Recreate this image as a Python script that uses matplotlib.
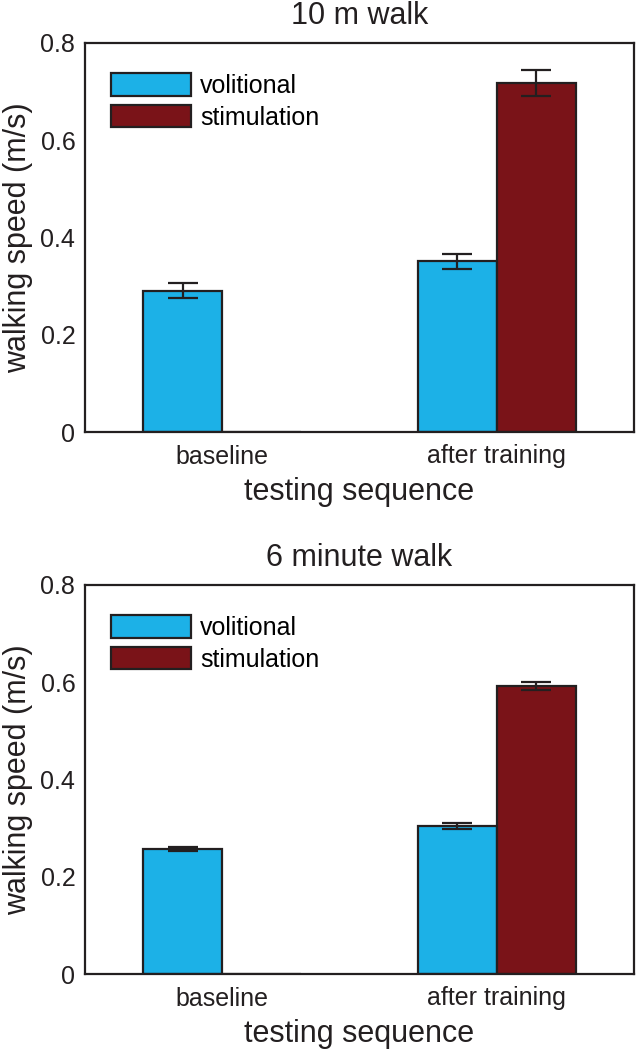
import numpy as np
import matplotlib
matplotlib.use("Agg")
import matplotlib.pyplot as plt

plt.rcParams['font.family'] = ['Liberation Sans', 'DejaVu Sans']

# data
groups = ['baseline', 'after training']
series = ['volitional', 'stimulation']
titles = ['10 m walk', '6 minute walk']

walk10_vol = [0.291, 0.351]
walk10_vol_err = [0.016, 0.016]
walk10_stim = [0.0, 0.717]
walk10_stim_err = [0.0, 0.027]

walk6_vol = [0.257, 0.305]
walk6_vol_err = [0.005, 0.006]
walk6_stim = [0.0, 0.592]
walk6_stim_err = [0.0, 0.0075]

blue = '#1cb1e7'
red = '#7a1318'
edge = '#231f20'

fig = plt.figure(figsize=(6.36, 10.5), dpi=100)
ax1 = fig.add_axes([85/636, 1-432/1050, 549/636, 389/1050])
ax2 = fig.add_axes([85/636, 1-974/1050, 549/636, 389/1050])

panels = [
    (ax1, titles[0], walk10_vol, walk10_vol_err, walk10_stim, walk10_stim_err),
    (ax2, titles[1], walk6_vol, walk6_vol_err, walk6_stim, walk6_stim_err),
]

x = np.arange(1, len(groups)+1)
w = 0.287

for ax, title, vol, vol_err, stim, stim_err in panels:
    ax.bar(x - w/2, vol, w, color=blue, edgecolor=edge, linewidth=1.6, label=series[0], zorder=2)
    ax.bar(x + w/2, stim, w, color=red, edgecolor=edge, linewidth=1.6, label=series[1], zorder=2)
    ax.errorbar(x - w/2, vol, yerr=vol_err, fmt='none', ecolor=edge, elinewidth=1.6,
                capsize=11, capthick=1.6, zorder=3)
    # only the bar that exists gets an error bar
    has = np.array(stim) > 0
    ax.errorbar((x + w/2)[has], np.array(stim)[has], yerr=np.array(stim_err)[has], fmt='none',
                ecolor=edge, elinewidth=1.6, capsize=11, capthick=1.6, zorder=3)

    ax.set_xlim(0.5, 2.5)
    ax.set_ylim(0, 0.8)
    ax.set_xticks(x)
    ax.set_xticklabels(groups)
    ax.set_yticks([0, 0.2, 0.4, 0.6, 0.8])
    ax.set_yticklabels(['0', '0.2', '0.4', '0.6', '0.8'])
    ax.tick_params(length=0, labelsize=18, colors='#231f20')
    ax.tick_params(axis='y', pad=7)
    ax.tick_params(axis='x', pad=9)
    for s in ax.spines.values():
        s.set_linewidth(1.6)
        s.set_color(edge)
    ax.set_title(title, fontsize=22, pad=14, color='#231f20')
    ax.set_ylabel('walking speed (m/s)', fontsize=22, labelpad=5, color='#231f20')
    ax.set_xlabel('testing sequence', fontsize=22, labelpad=6, color='#231f20')
    ax.legend(loc='upper left', bbox_to_anchor=(0.048, 0.922), frameon=False, fontsize=18,
              borderpad=0, borderaxespad=0, handlelength=3.2, handleheight=1.0,
              labelspacing=0.28, handletextpad=0.35)

fig.savefig('out.png', dpi=100)
